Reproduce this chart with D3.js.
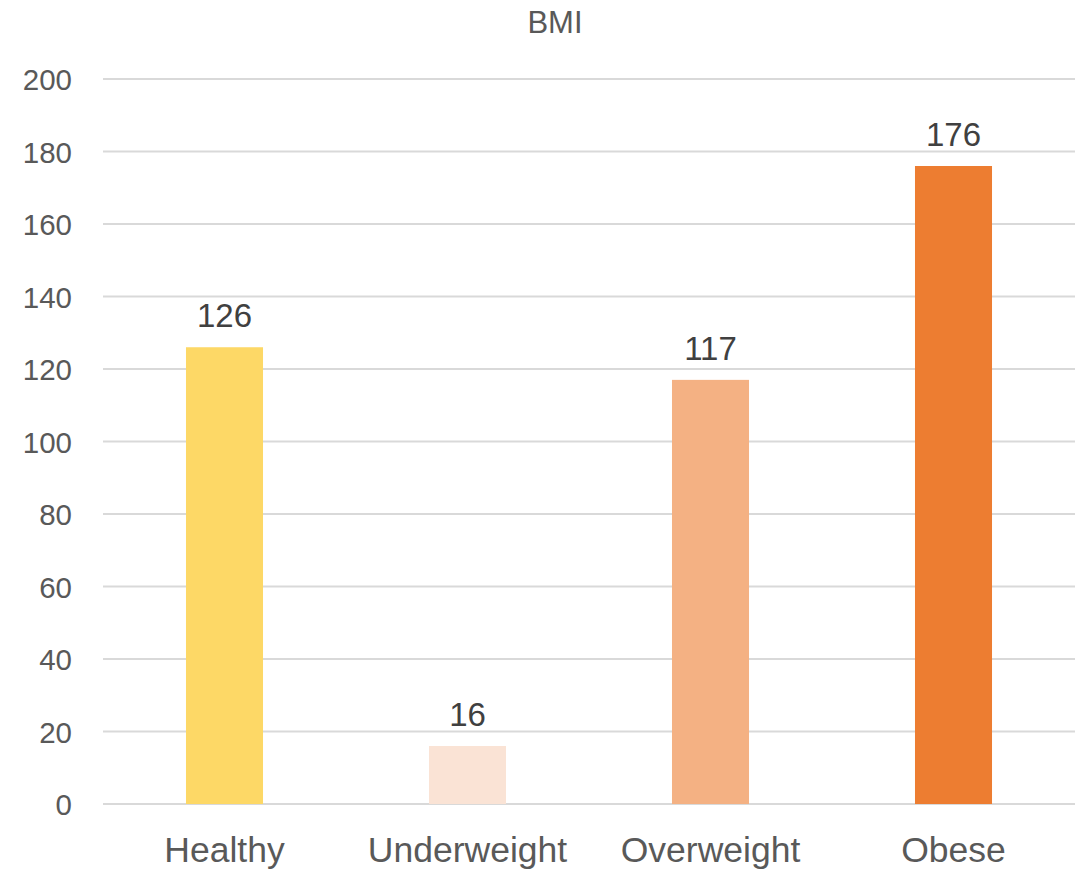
<!DOCTYPE html>
<html><head><meta charset="utf-8">
<script src="https://cdn.jsdelivr.net/npm/d3@7"></script>
<style>body{margin:0;background:#fff}svg{display:block}</style>
</head><body>
<svg id="c" width="1076" height="870"></svg>
<script>
const title = "BMI";
const categories = ["Healthy", "Underweight", "Overweight", "Obese"];
const values = [126, 16, 117, 176];
const colors = ["#FDD866", "#FAE3D5", "#F4B183", "#ED7D31"];
const yTicks = [0, 20, 40, 60, 80, 100, 120, 140, 160, 180, 200];

const svg = d3.select("#c");
const font = "'Liberation Sans', Arial, sans-serif";
const x = d3.scaleBand().domain(categories).range([103, 1075]).paddingInner(0.683).paddingOuter(0.3415);
const y = d3.scaleLinear().domain([0, 200]).range([804, 79]);

svg.append("g").selectAll("line").data(yTicks).join("line")
  .attr("x1", 103).attr("x2", 1075)
  .attr("y1", d => y(d)).attr("y2", d => y(d))
  .attr("stroke", "#d9d9d9").attr("stroke-width", 2);

const yAxis = d3.axisLeft(y).tickValues(yTicks).tickSize(0).tickPadding(0);
const ga = svg.append("g").attr("transform", "translate(72,0)").call(yAxis);
ga.select(".domain").remove();
ga.selectAll("text").attr("font-family", font).attr("font-size", 29.5).attr("fill", "#595959").attr("dy", "0.36em");

svg.append("g").selectAll("rect").data(values).join("rect")
  .attr("x", (d, i) => x(categories[i])).attr("width", x.bandwidth())
  .attr("y", d => y(d)).attr("height", d => y(0) - y(d))
  .attr("fill", (d, i) => colors[i]);

svg.append("g").selectAll("text").data(values).join("text")
  .attr("x", (d, i) => x(categories[i]) + x.bandwidth() / 2)
  .attr("y", d => y(d) - 20)
  .attr("text-anchor", "middle").attr("font-family", font).attr("font-size", 33)
  .attr("fill", "#404040").text(d => d);

const xAxis = d3.axisBottom(x).tickSize(0).tickPadding(0);
const gx = svg.append("g").attr("transform", "translate(0,804)").call(xAxis);
gx.select(".domain").remove();
gx.selectAll("text").attr("font-family", font).attr("font-size", 35.5).attr("fill", "#595959").attr("dy", null).attr("y", 58);

svg.append("text").attr("x", 555).attr("y", 33).attr("text-anchor", "middle")
  .attr("font-family", font).attr("font-size", 31).attr("fill", "#595959").text(title);
</script>
</body></html>
